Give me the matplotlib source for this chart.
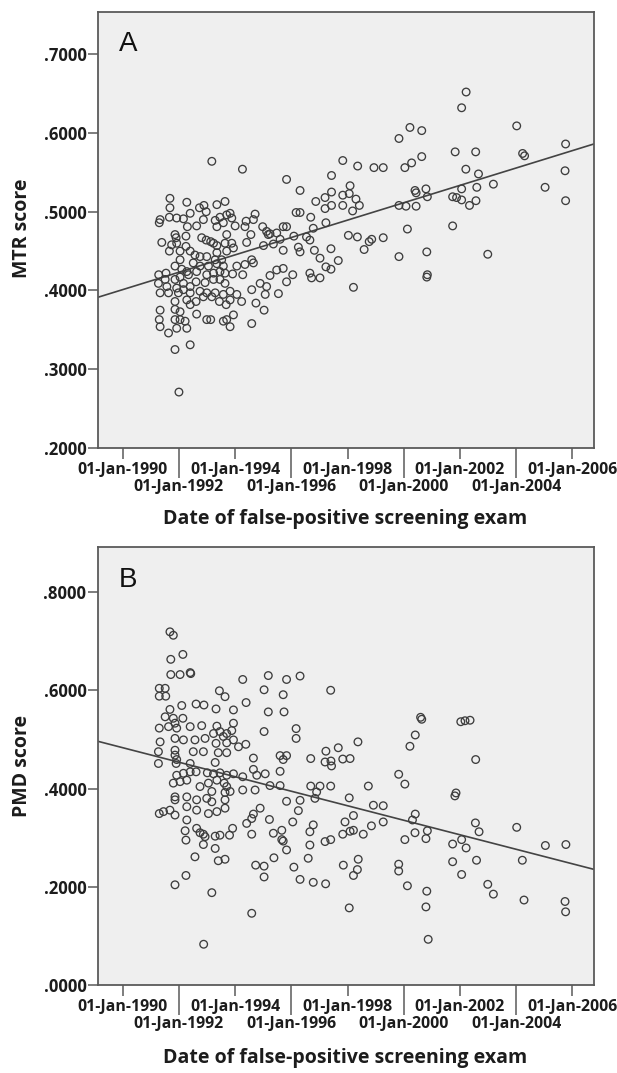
import matplotlib.pyplot as plt
import numpy as np

# Panel A: decimal year of the false-positive exam and MTR score
A_YEAR = [
    1993.17, 1994.26, 1991.68, 1992.28, 1992.89, 1992.73, 1993.35, 1993.64, 1992.97, 1991.68,
    1992.40, 1991.33, 1991.30, 1991.66, 1991.92, 1992.16, 1992.87, 1993.29, 1993.46, 1993.70,
    1993.88, 1993.82, 1994.00, 1994.39, 1994.71, 1994.65, 1994.35, 1994.98, 1995.12, 1995.18,
    1994.56, 1993.35, 1993.58, 1992.63, 1992.30, 1991.86, 1991.90, 1992.25, 1991.39, 1991.74,
    1991.92, 1992.25, 1992.81, 1992.97, 1993.13, 1993.23, 1993.35, 1993.70, 1993.64, 1993.88,
    1994.41, 1995.01,
    1991.66, 1992.04, 1992.40, 1992.57, 1992.75, 1992.99, 1993.35, 1993.70, 1993.94, 1993.29,
    1993.52, 1992.04, 1992.51, 1992.75, 1993.05, 1993.35, 1993.58, 1994.06, 1994.35, 1994.59,
    1994.65, 1994.27, 1993.91, 1993.64, 1993.46, 1993.23, 1992.99, 1992.63, 1992.28, 1992.10,
    1991.86, 1991.54, 1991.28, 1991.27, 1991.51, 1991.86, 1992.04, 1992.34, 1992.61, 1992.93,
    1993.23, 1993.46, 1993.64, 1992.16, 1992.40, 1991.57, 1991.92, 1992.16, 1991.33, 1991.63,
    1991.98, 1992.40, 1992.75, 1992.99, 1993.29, 1993.58, 1993.82, 1994.06, 1994.23, 1994.59,
    1994.89, 1995.12, 1995.07, 1994.74, 1995.03, 1993.82, 1993.68, 1993.44, 1993.17, 1992.87,
    1992.61, 1992.28, 1991.86, 1992.04, 1992.40, 1991.86, 1991.33, 1991.30, 1991.33, 1991.63,
    1991.86, 1992.04, 1992.22, 1992.28, 1991.92, 1992.63, 1992.99, 1993.13, 1993.58, 1993.70,
    1993.82, 1993.94, 1994.59, 1991.86, 1992.40, 1992.00,
    1995.83, 1996.31, 1997.43, 1997.83, 1998.36, 1998.94, 1999.27, 1999.83, 2000.22, 1996.87,
    1997.20, 1997.43, 1997.83, 1998.09, 1998.06, 1998.30, 1997.20, 1997.43, 1997.83, 1998.18,
    1998.42, 1996.17, 1996.31, 1996.69, 1995.71, 1995.83, 1997.23, 1996.78, 1995.24, 1995.48,
    1996.09, 1996.54, 1996.66, 1995.60, 1995.36, 1995.71, 1996.25, 1996.31, 1996.82, 1997.02,
    1997.41, 1997.67, 1997.23, 1997.41, 1995.71, 1995.48, 1996.05, 1995.24, 1996.66, 1996.72,
    1997.02, 1995.83, 1995.54, 1998.21, 1998.03, 1998.35, 1998.59, 1998.77, 1998.86, 1999.27,
    1999.83, 2000.08, 2000.44, 2000.40, 2000.44, 2000.13, 1999.83, 2000.28, 2000.04,
    2002.22, 2002.06, 2004.02, 2000.64, 2000.64, 2001.83, 2002.56, 2004.23, 2004.30, 2005.76,
    2002.21, 2002.66, 2003.19, 2000.79, 2000.84, 2002.06, 2002.60, 2001.74, 2001.88, 2002.06,
    2002.57, 2002.34, 2005.03, 2005.74, 2005.76, 2001.74, 2000.82, 2002.99, 2000.84, 2000.82,
]
A_MTR = [
    0.564, 0.554, 0.517, 0.512, 0.508, 0.505, 0.509, 0.513, 0.500, 0.505,
    0.498, 0.490, 0.486, 0.493, 0.492, 0.491, 0.490, 0.489, 0.493, 0.496,
    0.492, 0.498, 0.482, 0.488, 0.497, 0.490, 0.481, 0.481, 0.475, 0.471,
    0.471, 0.481, 0.486, 0.482, 0.481, 0.471, 0.467, 0.469, 0.461, 0.458,
    0.460, 0.456, 0.467, 0.464, 0.462, 0.460, 0.457, 0.471, 0.460, 0.460,
    0.461, 0.457,
    0.450, 0.450, 0.450, 0.445, 0.443, 0.443, 0.448, 0.450, 0.454, 0.439,
    0.439, 0.439, 0.435, 0.431, 0.431, 0.434, 0.431, 0.431, 0.433, 0.439,
    0.435, 0.420, 0.421, 0.422, 0.424, 0.422, 0.420, 0.424, 0.424, 0.427,
    0.431, 0.422, 0.420, 0.409, 0.414, 0.414, 0.417, 0.420, 0.411, 0.410,
    0.414, 0.414, 0.409, 0.409, 0.405, 0.405, 0.403, 0.401, 0.397, 0.397,
    0.397, 0.397, 0.399, 0.397, 0.397, 0.395, 0.399, 0.395, 0.386, 0.401,
    0.409, 0.405, 0.395, 0.384, 0.375, 0.388, 0.382, 0.386, 0.392, 0.392,
    0.386, 0.388, 0.386, 0.373, 0.382, 0.376, 0.375, 0.363, 0.354, 0.346,
    0.363, 0.363, 0.361, 0.352, 0.352, 0.370, 0.363, 0.363, 0.361, 0.363,
    0.354, 0.369, 0.358, 0.325, 0.331, 0.271,
    0.541, 0.527, 0.546, 0.565, 0.558, 0.556, 0.556, 0.593, 0.607, 0.513,
    0.518, 0.525, 0.521, 0.533, 0.523, 0.516, 0.504, 0.508, 0.508, 0.501,
    0.508, 0.499, 0.499, 0.493, 0.481, 0.481, 0.486, 0.479, 0.472, 0.473,
    0.469, 0.468, 0.464, 0.465, 0.459, 0.451, 0.455, 0.449, 0.451, 0.441,
    0.453, 0.438, 0.430, 0.427, 0.428, 0.426, 0.420, 0.419, 0.422, 0.416,
    0.416, 0.411, 0.396, 0.404, 0.470, 0.468, 0.452, 0.462, 0.465, 0.467,
    0.508, 0.507, 0.507, 0.527, 0.524, 0.478, 0.443, 0.562, 0.556,
    0.652, 0.632, 0.609, 0.603, 0.570, 0.576, 0.576, 0.574, 0.571, 0.586,
    0.554, 0.548, 0.535, 0.529, 0.519, 0.529, 0.531, 0.519, 0.518, 0.515,
    0.514, 0.508, 0.531, 0.552, 0.514, 0.482, 0.449, 0.446, 0.420, 0.417,
]

# Panel B: decimal year of the false-positive exam and PMD score
B_YEAR = [
    1991.68, 1991.80, 1992.14, 1991.71, 1991.71, 1992.04, 1992.40, 1992.42, 1991.30, 1991.51,
    1991.30, 1991.53, 1993.44, 1993.64, 1994.27, 1995.18, 1995.03, 1992.61, 1992.89, 1992.10,
    1991.68, 1993.32, 1993.94, 1994.39, 1995.18, 1991.51, 1991.80, 1992.14, 1991.30, 1991.86,
    1991.63, 1991.92, 1992.40, 1992.81, 1993.35, 1993.94, 1993.23, 1993.46, 1993.70, 1993.88,
    1995.03, 1991.33, 1991.86, 1992.16, 1992.57, 1992.93, 1993.58, 1993.32, 1993.70, 1993.94,
    1994.12, 1994.38, 1991.27, 1991.86, 1992.51, 1992.87, 1993.40, 1993.70, 1991.86, 1991.92,
    1994.65,
    1991.27, 1991.90, 1992.40, 1993.29, 1991.92, 1992.16, 1992.40, 1992.61, 1993.01, 1993.23,
    1993.46, 1993.70, 1993.94, 1994.27, 1994.65, 1994.77, 1995.07, 1991.80, 1992.04, 1992.28,
    1992.75, 1993.05, 1993.35, 1993.61, 1993.70, 1993.17, 1993.64, 1993.82, 1994.27, 1994.71,
    1991.86, 1991.86, 1992.28, 1992.63, 1992.99, 1993.17, 1993.64, 1992.28, 1992.63, 1993.05,
    1993.35, 1993.64, 1994.89, 1994.65, 1994.59, 1994.41, 1995.22, 1991.30, 1991.45, 1991.68,
    1991.86, 1992.28, 1992.22, 1992.63, 1992.75, 1992.87, 1992.93, 1993.29, 1993.46, 1993.80,
    1993.91, 1994.59, 1992.25, 1992.87, 1993.29, 1992.57, 1993.40, 1993.64, 1994.73, 1995.03,
    1995.03, 1992.25, 1991.86, 1993.17, 1994.59, 1992.88,
    1995.83, 1996.31, 1997.40, 1995.71, 1995.74, 1996.17, 1996.17, 2000.60, 2000.64, 2002.03,
    2002.18, 2002.36, 2000.41, 2000.22, 1998.37, 1997.67, 1997.23, 1997.20, 1997.41, 1997.43,
    1997.83, 1998.09, 1996.69, 1995.60, 1995.71, 1995.83, 1995.60, 2002.56, 1999.82, 2000.04,
    2001.86, 2001.82, 1996.69, 1997.02, 1996.90, 1996.84, 1997.40, 1998.74, 1998.06, 1995.60,
    1995.24, 1995.83, 1996.31, 1996.25, 1996.05, 1996.78, 1996.66, 1998.21, 1997.91, 1998.92,
    1999.27, 1999.27, 1998.85, 2000.41, 2000.31, 1995.36, 1995.66, 1995.66, 1995.71, 1995.83,
    1995.38, 1996.66, 1996.60, 1997.20, 1997.40, 1997.83, 1998.09, 1998.21, 1998.56, 2000.04,
    2000.40, 2000.79, 2000.84, 2001.74, 2002.06, 2002.22, 2002.55, 2002.68, 2004.02, 2005.04,
    2005.77, 2004.22, 2002.59, 2001.74, 2002.06, 1999.82, 1999.82, 1998.38, 1998.35, 1998.21,
    1997.85, 1996.09, 1996.31, 1996.78, 1997.22, 2000.13, 2000.82, 2000.79, 2000.87, 1998.06,
    2002.99, 2003.19, 2004.28, 2005.74, 2005.76,
]
B_PMD = [
    0.719, 0.712, 0.673, 0.663, 0.632, 0.632, 0.636, 0.634, 0.604, 0.604,
    0.588, 0.588, 0.599, 0.587, 0.622, 0.630, 0.601, 0.572, 0.570, 0.569,
    0.561, 0.562, 0.560, 0.575, 0.556, 0.546, 0.543, 0.543, 0.523, 0.533,
    0.526, 0.523, 0.526, 0.528, 0.527, 0.533, 0.512, 0.516, 0.512, 0.518,
    0.516, 0.495, 0.502, 0.499, 0.499, 0.502, 0.506, 0.492, 0.493, 0.499,
    0.485, 0.490, 0.475, 0.478, 0.475, 0.475, 0.473, 0.473, 0.468, 0.459,
    0.462,
    0.451, 0.451, 0.451, 0.453, 0.427, 0.431, 0.434, 0.434, 0.432, 0.430,
    0.432, 0.427, 0.430, 0.424, 0.439, 0.427, 0.430, 0.411, 0.414, 0.417,
    0.404, 0.411, 0.417, 0.411, 0.404, 0.394, 0.392, 0.394, 0.397, 0.397,
    0.383, 0.377, 0.383, 0.377, 0.380, 0.373, 0.377, 0.363, 0.356, 0.349,
    0.353, 0.360, 0.360, 0.348, 0.339, 0.329, 0.337, 0.349, 0.353, 0.356,
    0.346, 0.336, 0.314, 0.319, 0.310, 0.307, 0.302, 0.303, 0.305, 0.305,
    0.319, 0.307, 0.295, 0.286, 0.278, 0.261, 0.253, 0.256, 0.244, 0.242,
    0.220, 0.223, 0.204, 0.188, 0.146, 0.083,
    0.622, 0.629, 0.600, 0.591, 0.556, 0.522, 0.502, 0.545, 0.541, 0.536,
    0.538, 0.539, 0.509, 0.486, 0.495, 0.483, 0.476, 0.454, 0.456, 0.446,
    0.460, 0.461, 0.461, 0.467, 0.459, 0.467, 0.435, 0.459, 0.429, 0.409,
    0.391, 0.385, 0.405, 0.405, 0.393, 0.380, 0.405, 0.405, 0.381, 0.406,
    0.406, 0.374, 0.376, 0.355, 0.332, 0.326, 0.312, 0.345, 0.332, 0.366,
    0.365, 0.332, 0.324, 0.348, 0.336, 0.309, 0.315, 0.296, 0.293, 0.275,
    0.259, 0.285, 0.258, 0.292, 0.296, 0.307, 0.313, 0.315, 0.307, 0.296,
    0.310, 0.298, 0.314, 0.287, 0.296, 0.279, 0.330, 0.312, 0.321, 0.284,
    0.286, 0.254, 0.254, 0.251, 0.225, 0.246, 0.232, 0.256, 0.235, 0.223,
    0.244, 0.240, 0.215, 0.209, 0.206, 0.202, 0.191, 0.159, 0.093, 0.157,
    0.205, 0.185, 0.173, 0.170, 0.149,
]

# fitted lines as drawn in the figure: (value at 1 Jan 1990, change per year)
A_FIT = (0.4011, 0.01103)
B_FIT = (0.4831, -0.01477)

YEARS_ROW1 = [1990, 1994, 1998, 2002, 2006]
YEARS_ROW2 = [1992, 1996, 2000, 2004]
A_YTICKS = [0.2, 0.3, 0.4, 0.5, 0.6, 0.7]
B_YTICKS = [0.0, 0.2, 0.4, 0.6, 0.8]

XLIM = (1989.13, 2006.77)
INK = "#1c1c1c"
FRAME = "#5a5a5a"
MARK = "#3d3d3d"

plt.rcParams.update(
    {
        "font.family": ["Open Sans", "DejaVu Sans"],
        "font.weight": "bold",
        "text.color": INK,
        "xtick.color": FRAME,
        "ytick.color": FRAME,
        "xtick.labelcolor": INK,
        "ytick.labelcolor": INK,
        "xtick.labelsize": 11.4,
        "ytick.labelsize": 12,
    }
)


def date_label(year):
    return f"01-Jan-{year}"


def score_label(v):
    return f".{int(round(v * 10000)):04d}"


fig = plt.figure(figsize=(6.17, 10.73), dpi=100)

panels = [
    ("A", A_YEAR, A_MTR, A_FIT, (0.2, 0.754), A_YTICKS, "MTR score",
     [0.1593, 0.5825, 0.8034, 0.4066], 228, 519),
    ("B", B_YEAR, B_PMD, B_FIT, (0.0, 0.891), B_YTICKS, "PMD score",
     [0.1593, 0.0820, 0.8034, 0.4079], 766, 1058),
]

for letter, xs, ys, fit, ylim, yticks, ylabel, rect, ylab_px, xlab_px in panels:
    ax = fig.add_axes(rect)
    ax.set_facecolor("#efefef")
    ax.scatter(xs, ys, s=30, facecolors="none", edgecolors=MARK, linewidths=0.95, zorder=3)

    line_x = np.array(XLIM)
    ax.plot(line_x, fit[0] + fit[1] * (line_x - 1990), color="#444444", linewidth=1.2, zorder=2)

    ax.set_xlim(*XLIM)
    ax.set_ylim(*ylim)
    ax.set_xticks(YEARS_ROW1, [date_label(y) for y in YEARS_ROW1])
    ax.set_xticks(YEARS_ROW2, [date_label(y) for y in YEARS_ROW2], minor=True)
    ax.set_yticks(yticks, [score_label(v) for v in yticks])
    ax.tick_params(axis="x", which="major", length=8, width=1.1, pad=2)
    ax.tick_params(axis="x", which="minor", length=21.5, width=1.1, pad=1)
    ax.tick_params(axis="y", length=7, width=1.1, pad=1.5)
    for s in ax.spines.values():
        s.set_color(FRAME)
        s.set_linewidth(1.3)

    ax.text(0.042, 0.955, letter, transform=ax.transAxes, ha="left", va="top",
            fontsize=20, fontweight="normal", family="Liberation Sans", color="#111111")

    fig.text(22 / 617, 1 - ylab_px / 1073, ylabel, rotation=90, ha="center", va="center",
             fontsize=14, fontweight="bold")
    fig.text(0.5593, 1 - xlab_px / 1073, "Date of false-positive screening exam",
             ha="center", va="center", fontsize=14, fontweight="bold")

fig.savefig("out.png", dpi=100)
